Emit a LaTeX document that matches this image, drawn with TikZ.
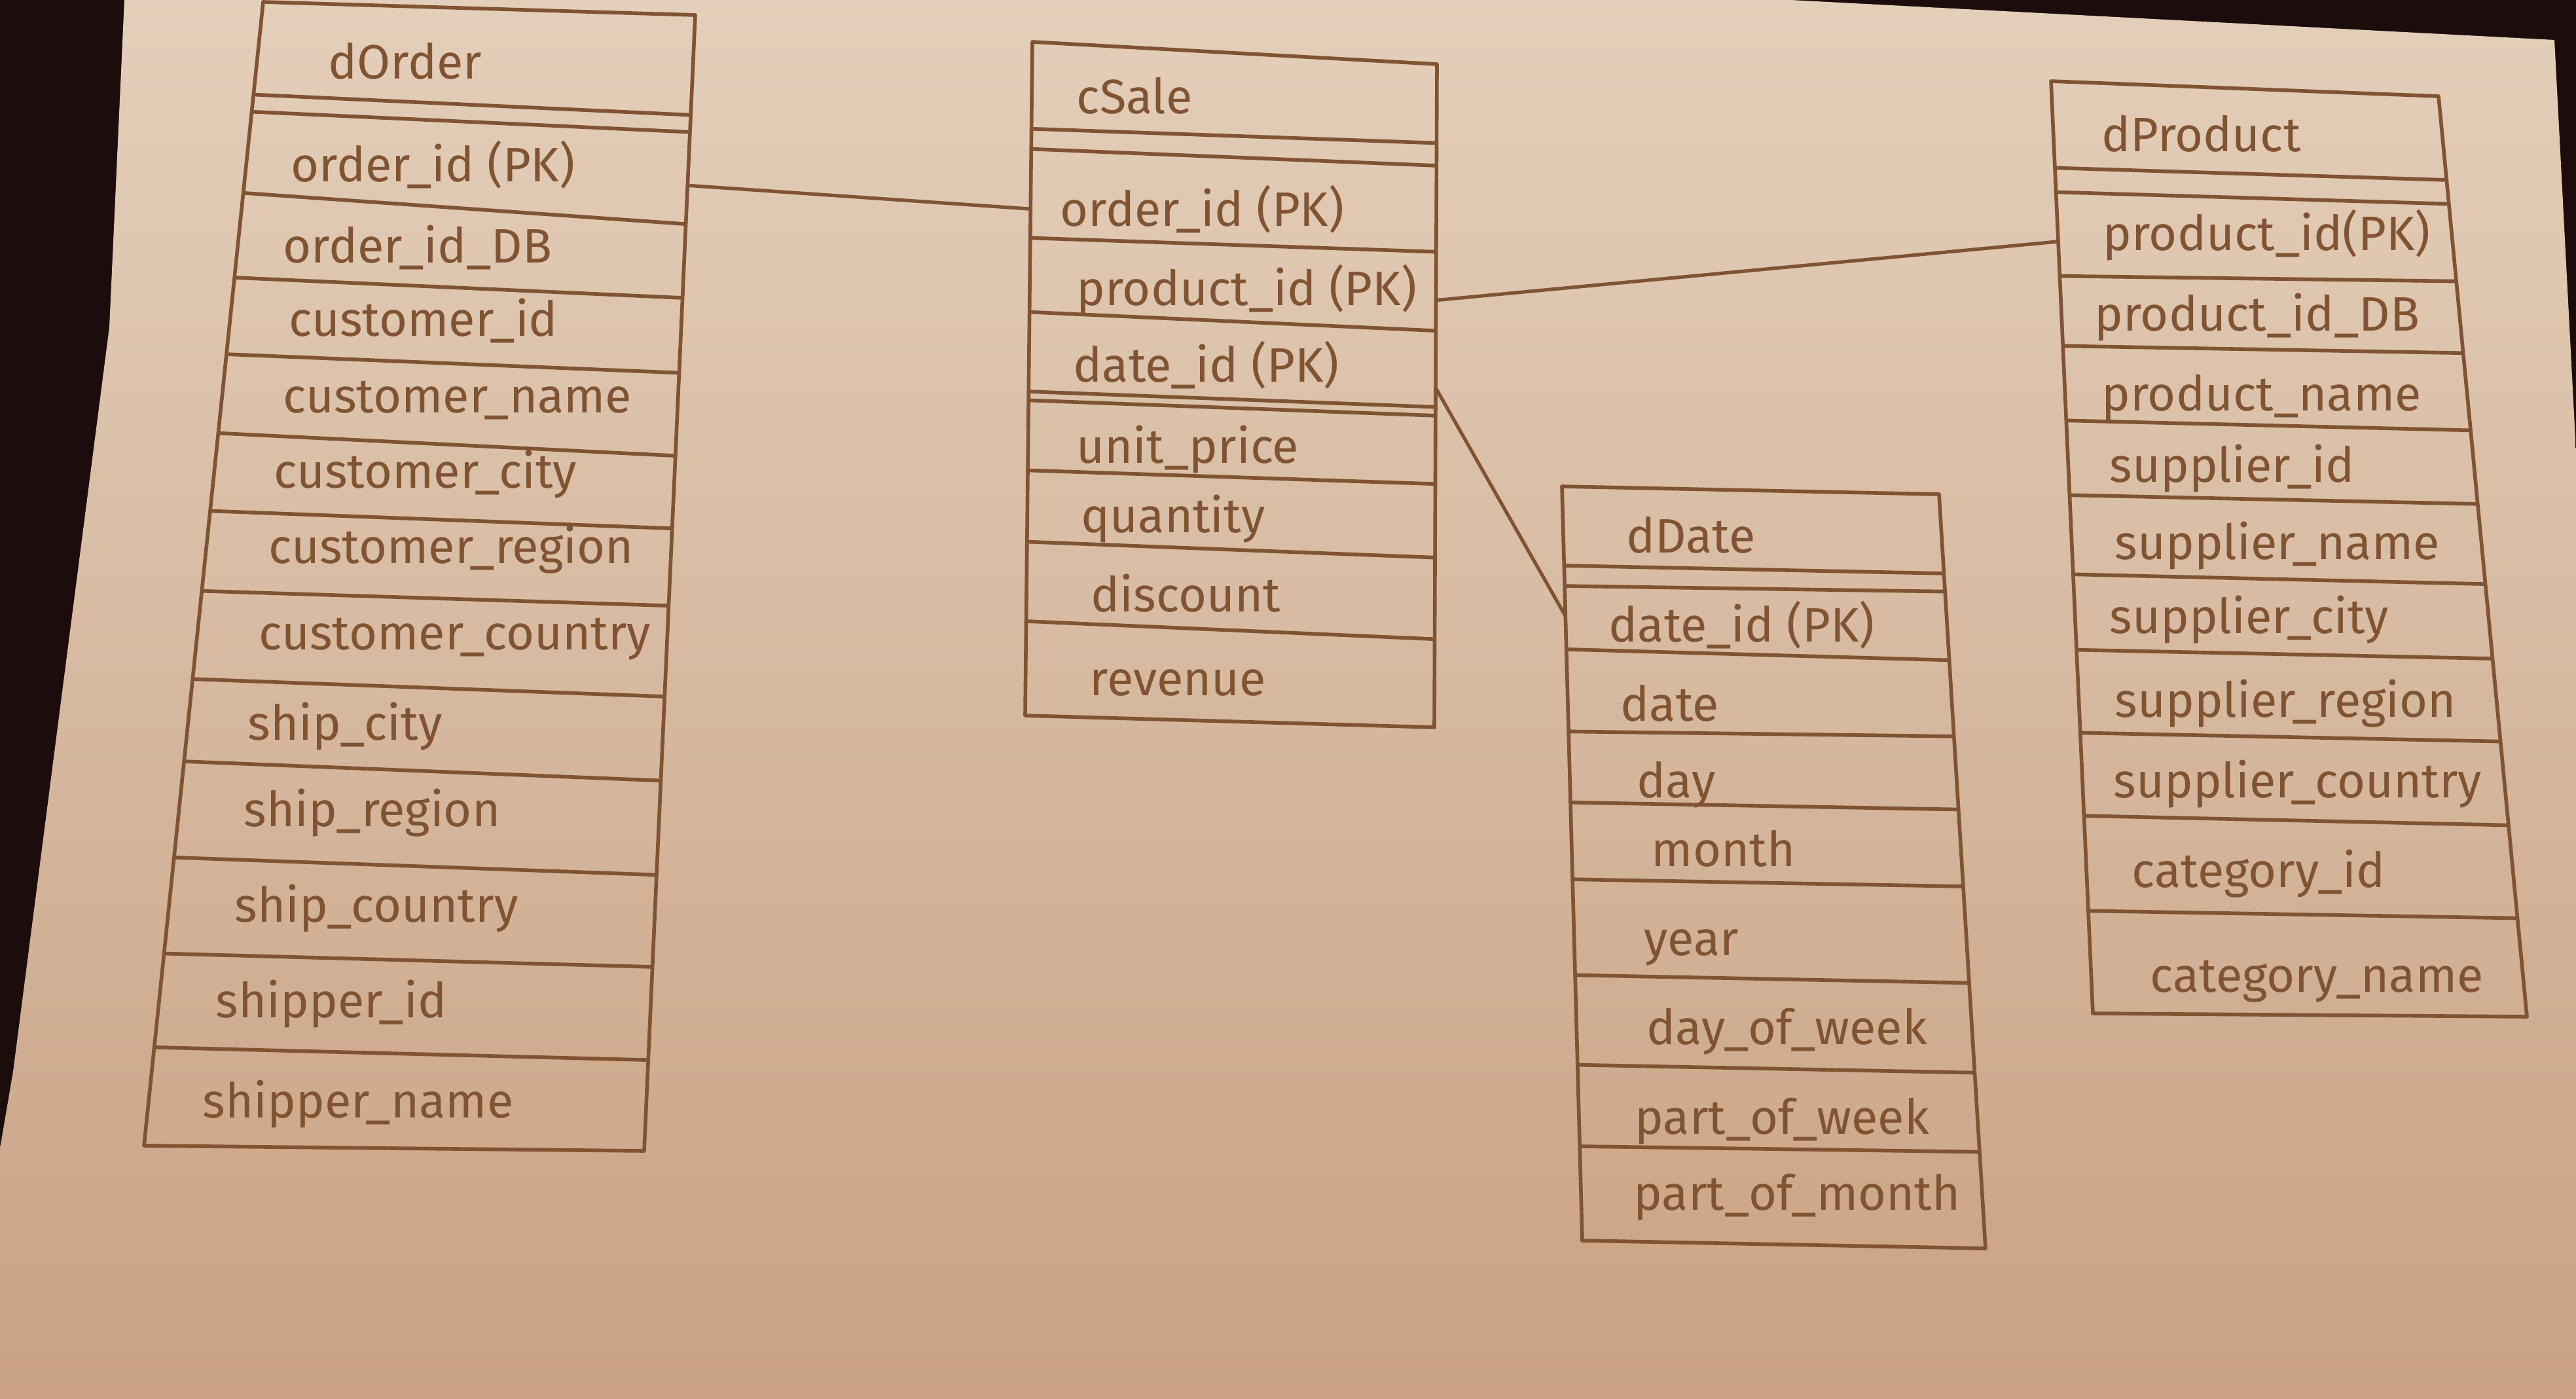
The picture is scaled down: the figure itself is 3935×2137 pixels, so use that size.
\documentclass[tikz,border=0pt]{standalone}
\usepackage{fontspec}
\setmainfont{Fira Sans}
\usetikzlibrary{calc}
\definecolor{ink}{RGB}{128,84,50}
\definecolor{paperhi}{RGB}{228,207,186}
\definecolor{paperlo}{RGB}{201,162,132}
\definecolor{desk}{RGB}{28,12,12}
\tikzset{
	tbl/.style={draw=ink, line width=1.6pt, line join=round},
	fld/.style={anchor=base west, inner sep=0pt, text=ink, font=\fontsize{21}{25}\selectfont},
	link/.style={draw=ink, line width=1.5pt}
}

\begin{document}
\begin{tikzpicture}[x=0.01cm, y=-0.01cm]
	\useasboundingbox (0,0) rectangle (3935,2137);
	\fill[desk] (0,0) rectangle (3935,2137);
	\shade[top color=paperhi, bottom color=paperlo] (190,0) -- (2735,0) -- (3902,61) -- (3935,690) -- (3935,2137) -- (0,2137) -- (0,1754) -- (20,1637) -- (167,500) -- cycle;

	% dOrder
	\coordinate (ord-nw) at (402,3);   \coordinate (ord-ne) at (1062,23);
	\coordinate (ord-sw) at (220,1750); \coordinate (ord-se) at (984,1758);
	\draw[tbl] (ord-nw) -- (ord-ne) -- (ord-se) -- (ord-sw) -- cycle;
	\foreach \a/\b in {0.081/0.088, 0.096/0.103, 0.167/0.184, 0.241/0.249, 0.308/0.315, 0.377/0.388, 0.445/0.452, 0.515/0.520, 0.592/0.600, 0.664/0.674, 0.748/0.757, 0.832/0.838, 0.914/0.920}
		\draw[tbl] ($(ord-nw)!\a!(ord-sw)$) -- ($(ord-ne)!\b!(ord-se)$);
	\foreach \px/\py/\t [count=\i] in {501/121/dOrder, 444/278/{order\_id (PK)}, 432/402/{order\_id\_DB}, 441/514/{customer\_id}, 432/631/{customer\_name}, 418/746/{customer\_city}, 410/861/{customer\_region}, 395/992/{customer\_country}, 378/1130/{ship\_city}, 372/1262/{ship\_region}, 358/1408/{ship\_country}, 329/1554/{shipper\_id}, 309/1707/{shipper\_name}}
		\node[fld] (ord\i) at (\px,\py) {\t};

	% cSale
	\coordinate (sale-nw) at (1577,64);   \coordinate (sale-ne) at (2195,98);
	\coordinate (sale-sw) at (1566,1093); \coordinate (sale-se) at (2191,1111);
	\draw[tbl] (sale-nw) -- (sale-ne) -- (sale-se) -- (sale-sw) -- cycle;
	\foreach \a/\b in {0.129/0.119, 0.159/0.153, 0.291/0.283, 0.401/0.402, 0.519/0.517, 0.532/0.530, 0.636/0.633, 0.742/0.744, 0.860/0.867}
		\draw[tbl] ($(sale-nw)!\a!(sale-sw)$) -- ($(sale-ne)!\b!(sale-se)$);
	\foreach \px/\py/\t [count=\i] in {1644/174/cSale, 1619/346/{order\_id (PK)}, 1644/467/{product\_id (PK)}, 1639/584/{date\_id (PK)}, 1644/708/{unit\_price}, 1651/814/quantity, 1666/935/discount, 1664/1062/revenue}
		\node[fld] (sale\i) at (\px,\py) {\t};

	% dDate
	\coordinate (date-nw) at (2386,743);  \coordinate (date-ne) at (2962,755);
	\coordinate (date-sw) at (2417,1895); \coordinate (date-se) at (3033,1907);
	\draw[tbl] (date-nw) -- (date-ne) -- (date-se) -- (date-sw) -- cycle;
	\foreach \a/\b in {0.105/0.105, 0.132/0.129, 0.216/0.220, 0.325/0.321, 0.419/0.418, 0.521/0.520, 0.648/0.648, 0.767/0.767, 0.875/0.872}
		\draw[tbl] ($(date-nw)!\a!(date-sw)$) -- ($(date-ne)!\b!(date-se)$);
	\foreach \px/\py/\t [count=\i] in {2484/845/dDate, 2457/981/{date\_id (PK)}, 2475/1101/date, 2500/1218/day, 2522/1323/month, 2511/1459/year, 2515/1595/{day\_of\_week}, 2497/1732/{part\_of\_week}, 2495/1848/{part\_of\_month}}
		\node[fld] (date\i) at (\px,\py) {\t};

	% dProduct
	\coordinate (prod-nw) at (3133,124);  \coordinate (prod-ne) at (3725,147);
	\coordinate (prod-sw) at (3197,1548); \coordinate (prod-se) at (3860,1553);
	\draw[tbl] (prod-nw) -- (prod-ne) -- (prod-se) -- (prod-sw) -- cycle;
	\foreach \a/\b in {0.093/0.091, 0.119/0.117, 0.209/0.201, 0.284/0.279, 0.364/0.363, 0.444/0.443, 0.529/0.530, 0.610/0.611, 0.699/0.701, 0.788/0.792, 0.890/0.893}
		\draw[tbl] ($(prod-nw)!\a!(prod-sw)$) -- ($(prod-ne)!\b!(prod-se)$);
	\foreach \px/\py/\t [count=\i] in {3210/232/dProduct, 3212/383/{product\_id(PK)}, 3199/506/{product\_id\_DB}, 3210/628/{product\_name}, 3222/737/{supplier\_id}, 3230/855/{supplier\_name}, 3222/968/{supplier\_city}, 3230/1095/{supplier\_region}, 3228/1218/{supplier\_country}, 3256/1355/{category\_id}, 3284/1515/{category\_name}}
		\node[fld] (prod\i) at (\px,\py) {\t};

	% links
	\coordinate (ord-key)   at ($(ord-ne)!0.150!(ord-se)$);
	\coordinate (sale-ord)  at ($(sale-nw)!0.248!(sale-sw)$);
	\coordinate (sale-prod) at ($(sale-ne)!0.356!(sale-se)$);
	\coordinate (prod-key)  at ($(prod-nw)!0.172!(prod-sw)$);
	\coordinate (sale-date) at ($(sale-ne)!0.488!(sale-se)$);
	\coordinate (date-key)  at ($(date-nw)!0.172!(date-sw)$);
	\draw[link] (ord-key) -- (sale-ord);
	\draw[link] (sale-prod) -- (prod-key);
	\draw[link] (sale-date) -- (date-key);
\end{tikzpicture}
\end{document}
